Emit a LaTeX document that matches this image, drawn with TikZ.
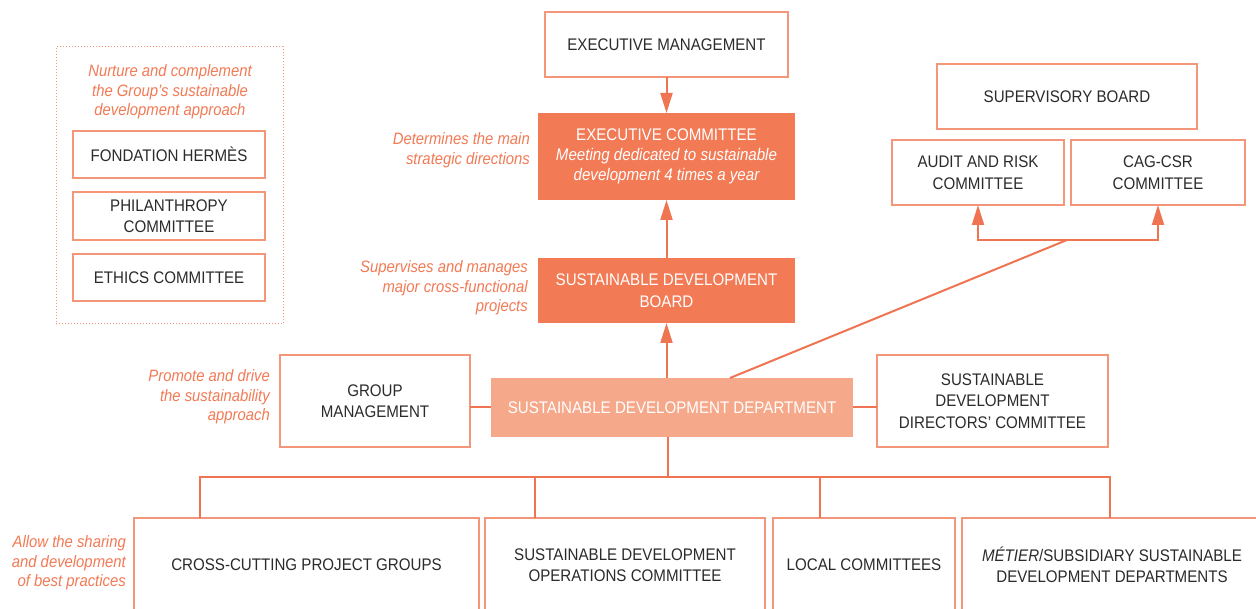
\documentclass[tikz,border=0pt]{standalone}
\usepackage{fontspec}
\setmainfont{Liberation Sans}[FakeStretch=0.9]
\usetikzlibrary{arrows.meta}
\definecolor{edgec}{HTML}{F3967A}
\definecolor{linec}{HTML}{EE7452}
\definecolor{darkf}{HTML}{F27A55}
\definecolor{lightf}{HTML}{F6A98A}
\definecolor{txt}{HTML}{2B2B2B}
\definecolor{labc}{HTML}{F27A55}
\begin{document}
\begin{tikzpicture}[x=1pt,y=-1pt,
  base/.style={align=center, inner sep=0pt, outer sep=0pt, font=\fontsize{16.8}{21.5}\selectfont},
  wbox/.style={base, draw=edgec, line width=1.3pt, fill=white, text=txt},
  dbox/.style={base, fill=darkf, text=white},
  lbox/.style={base, fill=lightf, text=white},
  lab/.style={text=labc, font=\fontsize{16.5}{19.5}\selectfont\itshape, align=right, anchor=east, inner sep=0pt},
  conn/.style={draw=linec, line width=2pt},
  arr/.style={conn, -{Triangle[length=20pt,width=12pt]}}]
\useasboundingbox (0,0) rectangle (1256,609);
\clip (0,0) rectangle (1256,609);
\fill[white] (0,0) rectangle (1256,609);

% left dotted frame
\node[draw=edgec, dotted, line width=1pt, minimum width=227, minimum height=277, inner sep=0pt] (frame) at (169.5,185.5) {};
\node[lab, anchor=center, align=center] (nurture) at (170,92) {Nurture and complement\\the Group’s sustainable\\development approach};
\node[wbox, minimum width=192, minimum height=47] (fh) at (169,154.5) {FONDATION HERMÈS};
\node[wbox, minimum width=192, minimum height=48] (pc) at (169,216) {PHILANTHROPY\\COMMITTEE};
\node[wbox, minimum width=192, minimum height=47] (eth) at (169,277.5) {ETHICS COMMITTEE};

% central column
\node[wbox, minimum width=243, minimum height=65] (em) at (666.5,44.5) {EXECUTIVE MANAGEMENT};
\node[dbox, minimum width=257, minimum height=87] (ec) at (666.5,156.5) {EXECUTIVE COMMITTEE\\[-1.5pt]{\itshape Meeting dedicated to sustainable}\\[-1.5pt]{\itshape development 4 times a year}};
\node[dbox, minimum width=257, minimum height=65] (sdb) at (666.5,290.5) {SUSTAINABLE DEVELOPMENT\\BOARD};
\node[lbox, minimum width=362, minimum height=59] (sdd) at (672,407.5) {SUSTAINABLE DEVELOPMENT DEPARTMENT};
\node[wbox, minimum width=190, minimum height=92] (gm) at (375,401) {GROUP\\MANAGEMENT};
\node[wbox, minimum width=231, minimum height=92] (sddc) at (992.5,401) {SUSTAINABLE\\DEVELOPMENT\\DIRECTORS' COMMITTEE};

% right boards
\node[wbox, minimum width=260, minimum height=65] (sb) at (1067,96.5) {SUPERVISORY BOARD};
\node[wbox, minimum width=172, minimum height=65] (arc) at (978,172.5) {AUDIT AND RISK\\COMMITTEE};
\node[wbox, minimum width=174, minimum height=65] (cag) at (1158,172.5) {CAG-CSR\\COMMITTEE};

% bottom row
\node[wbox, minimum width=345, minimum height=94] (ccpg) at (306.5,565) {CROSS-CUTTING PROJECT GROUPS};
\node[wbox, minimum width=280, minimum height=94] (sdoc) at (625,565) {SUSTAINABLE DEVELOPMENT\\OPERATIONS COMMITTEE};
\node[wbox, minimum width=182, minimum height=94] (lc) at (864,565) {LOCAL COMMITTEES};
\node[wbox, minimum width=300, minimum height=94] (met) at (1112,565) {{\itshape MÉTIER}/SUBSIDIARY SUSTAINABLE\\DEVELOPMENT DEPARTMENTS};

% labels
\node[lab] (l1) at (530,150) {Determines the main\\strategic directions};
\node[lab] (l2) at (528,288) {Supervises and manages\\major cross-functional\\projects};
\node[lab] (l3) at (270,397) {Promote and drive\\the sustainability\\approach};
\node[lab] (l4) at (126,563) {Allow the sharing\\and development\\of best practices};

% connectors
\coordinate (split) at (1067,240);
\coordinate (dtop) at (730,378);
\coordinate (bus) at (668,477);
\coordinate (b1) at (200,477);
\coordinate (b2) at (535,477);
\coordinate (b3) at (820,477);
\coordinate (b4) at (1110,477);

\draw[arr] (em.south) -- (ec.north);
\draw[arr] (sdb.south |- sdd.north) -- (sdb.south);
\draw[arr] (sdb.north) -- (ec.south);
\draw[conn] (sdd.west) -- (sdd.west -| gm.east);
\draw[conn] (sdd.east) -- (sdd.east -| sddc.west);
\draw[conn] (split) -- (dtop);
\draw[arr] (split) -| (arc.south);
\draw[arr] (split) -| (cag.south);
\draw[conn] (bus |- sdd.south) -- (bus);
\draw[conn] (b1 |- ccpg.north) -- (b1) -- (b4) -- (b4 |- met.north);
\draw[conn] (b2) -- (b2 |- sdoc.north);
\draw[conn] (b3) -- (b3 |- lc.north);
\end{tikzpicture}
\end{document}
